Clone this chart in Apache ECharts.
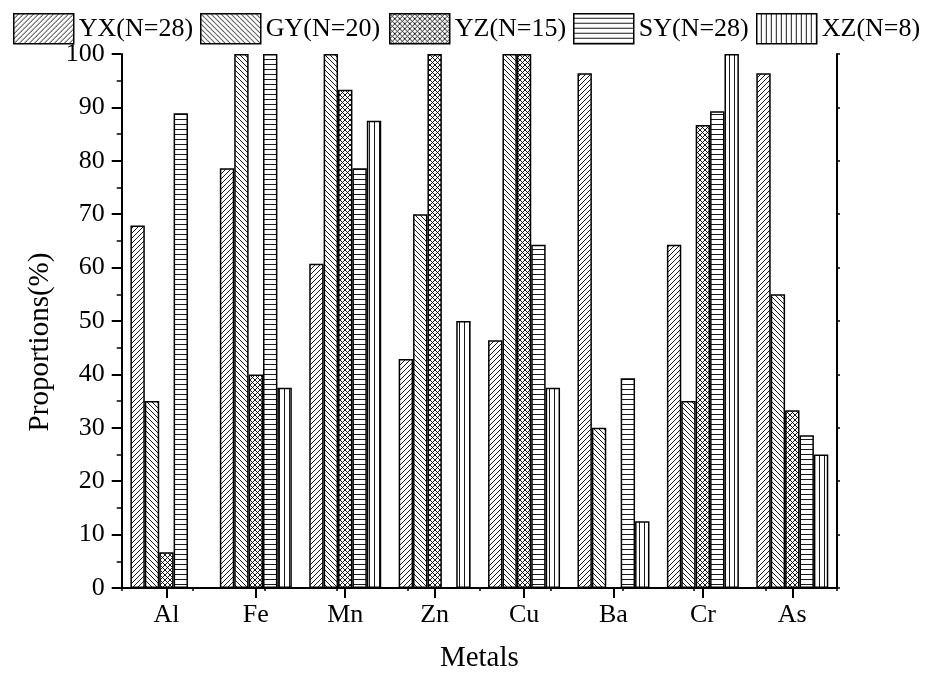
<!DOCTYPE html>
<html><head><meta charset="utf-8">
<script src="https://cdn.jsdelivr.net/npm/echarts@6/dist/echarts.min.js"></script>
<style>html,body{margin:0;padding:0;background:#fff}#c{width:936px;height:678px}</style>
</head><body><div id="c"></div>
<script>
const categories = ['Al', 'Fe', 'Mn', 'Zn', 'Cu', 'Ba', 'Cr', 'As'];
const seriesNames = ['YX(N=28)', 'GY(N=20)', 'YZ(N=15)', 'SY(N=28)', 'XZ(N=8)'];
const yx = [67.9, 78.6, 60.7, 42.9, 46.4, 96.4, 64.3, 96.4];
const gy = [35, 100, 100, 70, 100, 30, 35, 55];
const yz = [6.7, 40, 93.3, 100, 100, 0, 86.7, 33.3];
const sy = [88.9, 100, 78.6, 0, 64.3, 39.3, 89.3, 28.6];
const xz = [0, 37.5, 87.5, 50, 37.5, 12.5, 100, 25];
const xTitle = 'Metals';
const yTitle = 'Proportions(%)';

const FONT = 'Liberation Serif';

function hatch(kind) {
  const s = 5;
  const c = document.createElement('canvas');
  c.width = s; c.height = s;
  const g = c.getContext('2d');
  g.fillStyle = '#fff'; g.fillRect(0, 0, s, s);
  g.strokeStyle = '#000'; g.lineWidth = 0.9;
  g.beginPath();
  if (kind === 'fwd' || kind === 'cross') {
    g.moveTo(-1, s + 1); g.lineTo(s + 1, -1);
    g.moveTo(-1, 1); g.lineTo(1, -1);
    g.moveTo(s - 1, s + 1); g.lineTo(s + 1, s - 1);
  }
  if (kind === 'back' || kind === 'cross') {
    g.moveTo(-1, -1); g.lineTo(s + 1, s + 1);
    g.moveTo(-1, s - 1); g.lineTo(1, s + 1);
    g.moveTo(s - 1, -1); g.lineTo(s + 1, 1);
  }
  if (kind === 'horiz') { g.moveTo(0, s - 0.5); g.lineTo(s, s - 0.5); }
  if (kind === 'vert') { g.moveTo(s - 0.5, 0); g.lineTo(s - 0.5, s); }
  g.stroke();
  return { image: c, repeat: 'repeat' };
}

const kinds = ['fwd', 'back', 'cross', 'horiz', 'vert'];
const dataSets = [yx, gy, yz, sy, xz];
const legendLeft = [13, 200, 389, 573, 756];

const chart = echarts.init(document.getElementById('c'), null, { renderer: 'canvas' });

const series = seriesNames.map((n, i) => ({
  name: n,
  type: 'bar',
  data: dataSets[i],
  barGap: '0%',
  barCategoryGap: '19.5%',
  itemStyle: { color: hatch(kinds[i]), borderColor: '#000', borderWidth: 1.5 },
  emphasis: { disabled: true }
}));

const legends = seriesNames.map((n, i) => ({
  data: [n],
  left: legendLeft[i],
  top: 13,
  padding: 0,
  itemWidth: 60,
  itemHeight: 30,
  icon: 'rect',
  selectedMode: false,
  itemStyle: { borderColor: '#000', borderWidth: 1.5 },
  textStyle: { fontFamily: FONT, fontSize: 26, color: '#000' }
}));

const axisLine = { show: true, lineStyle: { color: '#000', width: 2 } };

chart.setOption({
  animation: false,
  backgroundColor: '#fff',
  legend: legends,
  grid: { left: 121.7, right: 99, top: 54, bottom: 90, containLabel: false },
  xAxis: [{
    type: 'category',
    data: categories,
    position: 'bottom',
    axisLine: axisLine,
    axisTick: { show: true, alignWithLabel: true, length: 10, inside: false, lineStyle: { color: '#000', width: 2 } },
    axisLabel: { fontFamily: FONT, fontSize: 26, color: '#000', margin: 14 },
    name: xTitle,
    nameLocation: 'middle',
    nameGap: 56,
    nameTextStyle: { fontFamily: FONT, fontSize: 29, color: '#000' },
    splitLine: { show: false }
  }, {
    type: 'value',
    position: 'top',
    min: 0, max: 10, interval: 1,
    axisLine: axisLine,
    axisTick: { show: true, inside: true, length: 3, lineStyle: { color: '#000', width: 1.5 } },
    axisLabel: { show: false },
    splitLine: { show: false }
  }],
  yAxis: [{
    type: 'value',
    min: 0, max: 100, interval: 10,
    position: 'left',
    axisLine: axisLine,
    axisTick: { show: true, length: 10, inside: false, lineStyle: { color: '#000', width: 2 } },
    minorTick: { show: true, splitNumber: 2, length: 5, lineStyle: { color: '#000', width: 1.5 } },
    axisLabel: { fontFamily: FONT, fontSize: 26, color: '#000', margin: 17 },
    splitLine: { show: false },
    name: yTitle,
    nameLocation: 'middle',
    nameGap: 66,
    nameTextStyle: { fontFamily: FONT, fontSize: 29, color: '#000', padding: [0, 42, 0, 0] }
  }, {
    type: 'value',
    min: 0, max: 100, interval: 10,
    position: 'right',
    axisLine: axisLine,
    axisTick: { show: true, length: 3, inside: false, lineStyle: { color: '#000', width: 1.5 } },
    axisLabel: { show: false },
    splitLine: { show: false }
  }],
  series: series
});
</script></body></html>
